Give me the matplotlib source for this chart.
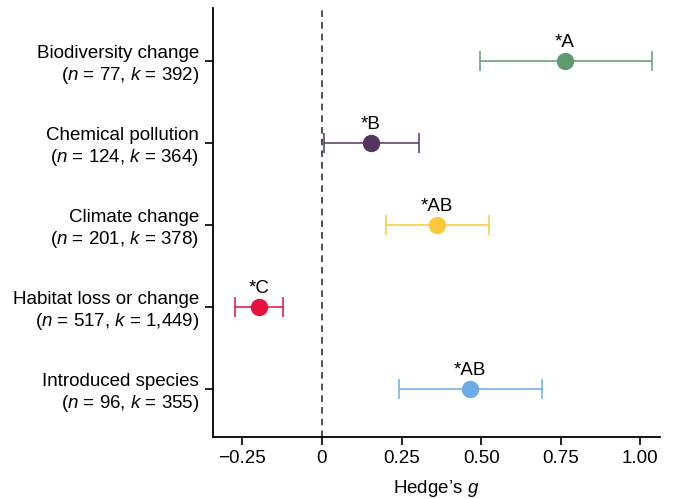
import matplotlib
matplotlib.use("Agg")
import matplotlib.pyplot as plt

plt.rcParams['font.family'] = ['Liberation Sans', 'DejaVu Sans']
plt.rcParams['mathtext.fontset'] = 'custom'
plt.rcParams['mathtext.rm'] = 'Liberation Sans'
plt.rcParams['mathtext.it'] = 'Liberation Sans:italic'

categories = ["Biodiversity change", "Chemical pollution", "Climate change",
              "Habitat loss or change", "Introduced species"]
n_vals = ["77", "124", "201", "517", "96"]
k_vals = ["392", "364", "378", "1,449", "355"]
g_mean = [0.763, 0.154, 0.361, -0.198, 0.465]
ci_low = [0.496, 0.006, 0.201, -0.273, 0.242]
ci_high = [1.036, 0.305, 0.524, -0.122, 0.691]
groups = ["*A", "*B", "*AB", "*C", "*AB"]
colors = ["#5f9a6e", "#553560", "#fdc93a", "#e8103f", "#6aabea"]
xticks = [-0.25, 0, 0.25, 0.50, 0.75, 1.00]
xticklabels = ["\u22120.25", "0", "0.25", "0.50", "0.75", "1.00"]

fs = 13.5

fig = plt.figure(figsize=(6.74, 4.99), dpi=100)
ax = fig.add_axes([0.316, 0.124, 0.663, 0.86])

for i in range(len(categories)):
    err = [[g_mean[i] - ci_low[i]], [ci_high[i] - g_mean[i]]]
    ax.errorbar([g_mean[i]], [i], xerr=err, fmt='none', ecolor=colors[i],
                elinewidth=1.3, capsize=7.2, capthick=1.3, alpha=0.85, zorder=2)
    ax.plot([g_mean[i]], [i], 'o', color=colors[i], markersize=11.5, zorder=3)
    ax.annotate(groups[i], (g_mean[i], i), xytext=(0, 7.5), textcoords='offset points',
                ha='center', va='bottom', fontsize=fs)

ax.axvline(0, color='#333333', linestyle=(0, (4, 3)), linewidth=1.2, zorder=1)

ax.set_ylim(4.585, -0.646)
ax.set_xlim(-0.342, 1.061)
ax.set_yticks(range(len(categories)))
ax.set_yticklabels([f"{c}\n($n$ = {n}, $k$ = {k})" for c, n, k in zip(categories, n_vals, k_vals)],
                   fontsize=fs, ha='right', multialignment='right')
ax.set_xticks(xticks)
ax.set_xticklabels(xticklabels, fontsize=fs)
ax.set_xlabel("Hedge\u2019s $g$", fontsize=fs, labelpad=8)

for s in ['top', 'right']:
    ax.spines[s].set_visible(False)
for s in ['left', 'bottom']:
    ax.spines[s].set_linewidth(1.3)
ax.tick_params(axis='both', width=1.2, length=6)
ax.tick_params(axis='y', pad=4)

fig.savefig("out.png", dpi=100)
